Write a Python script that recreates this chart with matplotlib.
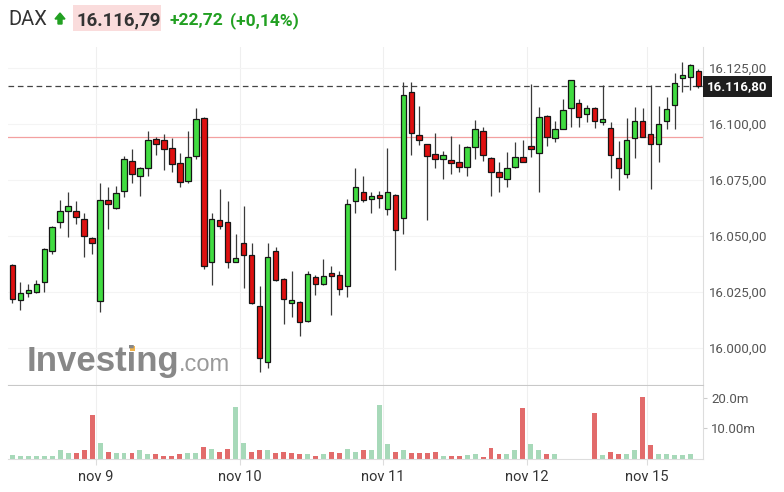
import numpy as np
import matplotlib
matplotlib.use('Agg')
import matplotlib.pyplot as plt
import matplotlib.transforms as mtransforms
from matplotlib.patches import Polygon, Rectangle

plt.rcParams['font.family'] = ['Roboto', 'DejaVu Sans']

# DAX, 30 min candles, nov 9 - nov 15
opens = [16037.0, 16021.4, 16024.4, 16024.8, 16029.6, 16043.4, 16056.4, 16061.4, 16061.3, 16057.4,
         16049.1, 16021.1, 16065.9, 16062.3, 16070.2, 16083.7, 16076.9, 16080.2, 16093.4, 16092.8,
         16089.4, 16082.7, 16074.7, 16085.8, 16102.8, 16038.5, 16057.1, 16056.4, 16038.5, 16047.0,
         16041.5, 16018.9, 15993.9, 16043.4, 16030.8, 16019.9, 16020.7, 16012.2, 16031.8, 16028.4,
         16033.6, 16032.4, 16027.8, 16065.7, 16069.8, 16066.5, 16068.3, 16061.9, 16068.3, 16057.9,
         16114.4, 16094.9, 16091.0, 16086.6, 16084.6, 16083.9, 16083.1, 16080.9, 16089.8, 16097.0,
         16084.9, 16078.7, 16075.4, 16080.9, 16085.4, 16090.3, 16086.9, 16103.8, 16093.6, 16098.0,
         16107.0, 16109.5, 16104.3, 16107.3, 16101.0, 16098.3, 16084.9, 16077.5, 16093.6, 16101.3,
         16095.4, 16090.9, 16101.5, 16108.7, 16120.4, 16121.1, 16123.9]
highs = [16037.5, 16029.3, 16028.4, 16030.3, 16044.8, 16054.4, 16066.3, 16069.5, 16065.6, 16060.1,
         16049.7, 16073.5, 16072.0, 16072.4, 16085.7, 16088.7, 16080.9, 16097.0, 16094.0, 16095.4,
         16093.6, 16086.9, 16097.0, 16107.0, 16103.2, 16060.1, 16070.8, 16065.6, 16050.7, 16063.5,
         16046.7, 16027.6, 16047.1, 16045.2, 16031.1, 16034.5, 16021.0, 16034.5, 16032.6, 16039.6,
         16036.7, 16034.5, 16066.5, 16080.6, 16076.9, 16069.8, 16070.2, 16089.1, 16068.6, 16118.6,
         16118.6, 16108.0, 16091.3, 16095.8, 16087.9, 16094.6, 16090.9, 16090.1, 16102.0, 16098.5,
         16085.4, 16082.9, 16087.3, 16091.8, 16092.8, 16118.1, 16107.4, 16104.1, 16101.3, 16111.4,
         16119.8, 16111.4, 16108.4, 16107.6, 16117.4, 16101.0, 16092.4, 16102.5, 16107.7, 16107.0,
         16117.4, 16108.0, 16112.2, 16122.6, 16127.6, 16127.0, 16124.8]
lows = [16020.2, 16017.2, 16022.9, 16024.4, 16025.1, 16041.9, 16053.7, 16049.7, 16055.3, 16040.7,
        16042.2, 16016.2, 16053.1, 16062.0, 16067.5, 16073.5, 16068.0, 16076.9, 16086.4, 16079.7,
        16078.4, 16072.0, 16073.5, 16084.3, 16035.2, 16028.1, 16053.1, 16035.8, 16038.2, 16026.9,
        16019.6, 15989.4, 15991.2, 16030.0, 16010.7, 16014.0, 16005.3, 16011.7, 16023.9, 16028.1,
        16014.7, 16023.9, 16022.6, 16060.4, 16065.3, 16060.4, 16062.6, 16059.3, 16034.8, 16050.7,
        16086.1, 16090.6, 16057.1, 16080.6, 16075.4, 16077.6, 16078.4, 16076.8, 16084.3, 16083.6,
        16067.8, 16069.5, 16072.0, 16080.6, 16082.9, 16085.4, 16069.8, 16090.3, 16092.1, 16097.7,
        16098.5, 16098.8, 16101.0, 16098.3, 16099.5, 16076.0, 16070.5, 16076.0, 16084.9, 16094.0,
        16071.0, 16083.1, 16098.0, 16097.7, 16114.4, 16115.4, 16116.2]
closes = [16022.1, 16024.7, 16025.9, 16028.4, 16044.2, 16054.1, 16061.3, 16063.4, 16058.6, 16050.1,
          16046.7, 16065.9, 16064.1, 16069.3, 16084.3, 16077.9, 16080.5, 16092.8, 16091.3, 16088.7,
          16082.0, 16074.2, 16085.4, 16102.2, 16036.7, 16057.4, 16054.6, 16038.5, 16040.3, 16041.5,
          16019.9, 15995.4, 16040.7, 16030.3, 16021.7, 16021.4, 16011.7, 16033.0, 16028.4, 16032.3,
          16032.1, 16026.2, 16064.3, 16071.7, 16066.3, 16067.8, 16066.9, 16069.8, 16052.6, 16112.9,
          16096.1, 16093.1, 16085.8, 16084.6, 16086.0, 16082.4, 16080.9, 16089.8, 16097.6, 16086.1,
          16078.7, 16076.5, 16080.5, 16085.4, 16083.1, 16089.0, 16103.2, 16094.3, 16097.6, 16106.1,
          16119.5, 16103.2, 16107.0, 16101.5, 16102.2, 16086.4, 16080.2, 16092.8, 16101.3, 16094.3,
          16091.3, 16100.0, 16106.5, 16118.4, 16121.7, 16126.3, 16116.8]

# volume in millions, 1 = up bar (green), 0 = down bar (red)
volumes = [1.4, 1.0, 1.0, 1.0, 1.0, 1.0, 2.9, 2.0, 2.0, 2.9,
           14.4, 5.4, 2.4, 2.0, 2.0, 2.0, 2.9, 1.5, 1.5, 1.1,
           1.1, 1.6, 2.0, 2.0, 4.0, 3.3, 2.4, 3.3, 17.1, 5.4,
           2.4, 2.9, 2.9, 2.0, 2.4, 2.0, 1.5, 1.5, 1.1, 1.5,
           2.4, 2.0, 3.3, 2.4, 2.9, 2.9, 17.8, 4.8, 2.4, 2.9,
           2.0, 2.0, 2.0, 2.4, 1.1, 1.1, 1.1, 1.4, 1.7, 0.6,
           3.6, 1.7, 1.7, 2.8, 16.6, 4.8, 2.8, 1.7, 1.7, 0.0,
           0.0, 0.0, 0.0, 15.2, 1.4, 2.2, 1.7, 1.7, 2.8, 20.3,
           4.5, 1.7, 1.7, 1.4, 1.4, 1.7, 0.0]
vol_up = [1, 1, 1, 1, 1, 1, 1, 1, 0, 0,
          0, 1, 0, 1, 1, 0, 1, 1, 0, 0,
          0, 0, 1, 1, 0, 1, 0, 0, 1, 1,
          0, 0, 1, 0, 0, 0, 0, 1, 0, 1,
          0, 0, 1, 1, 0, 1, 1, 1, 0, 1,
          0, 0, 0, 0, 1, 0, 0, 1, 1, 0,
          0, 0, 1, 1, 0, 1, 1, 0, 1, 1,
          1, 1, 1, 0, 1, 0, 0, 1, 1, 0,
          0, 1, 1, 1, 1, 1, 1]

day_labels = ['nov 9', 'nov 10', 'nov 11', 'nov 12', 'nov 15']
day_pos = [10.5, 28.5, 46.5, 64.5, 79.5]
price_ticks = [16000, 16025, 16050, 16075, 16100, 16125]
vol_ticks = [10, 20]
vol_labels = ['10.00m', '20.0m']

last_price = 16116.80
prev_close = 16094.07
header_price = '16.116,79'
header_chg = '+22,72'
header_pct = '(+0,14%)'


def de_fmt(v):
    s = f'{v:,.2f}'
    return s.replace(',', ' ').replace('.', ',').replace(' ', '.')


W, H = 784, 492
fig = plt.figure(figsize=(W / 100, H / 100), dpi=100)
px = mtransforms.Affine2D().scale(1 / W, -1 / H).translate(0, 1) + fig.transFigure


def box(x0, y0, x1, y1):
    return [x0 / W, 1 - y1 / H, (x1 - x0) / W, (y1 - y0) / H]


ax = fig.add_axes(box(8, 47, 703, 385))
axv = fig.add_axes(box(8, 386, 703, 459))

idx = np.arange(len(opens))
o = np.array(opens)
c = np.array(closes)
hi = np.array(highs)
lo = np.array(lows)
up = c >= o

# candles
ax.vlines(idx, lo, hi, color='#3a3a3a', lw=0.9, zorder=3)
ax.bar(idx, np.maximum(np.abs(c - o), 0.8), bottom=np.minimum(o, c), width=0.68,
       color=np.where(up, '#41dc41', '#de1010'), edgecolor='#151515', linewidth=0.9, zorder=4)

ax.axhline(last_price, color='#444444', lw=0.9, ls=(0, (4.5, 3)), zorder=2)
ax.axhline(prev_close, color='#f3a0a0', lw=0.9, zorder=2)
for d in day_pos:
    ax.axvline(d, color='#efefef', lw=0.8, zorder=0)
    axv.axvline(d, color='#efefef', lw=0.8, zorder=0)

ax.set_xlim(-0.54, 86.57)
ax.set_ylim(15983.5, 16134.4)
ax.set_yticks(price_ticks, [de_fmt(v) for v in price_ticks])
ax.yaxis.tick_right()
ax.tick_params(axis='y', length=0, pad=4, labelsize=9.5, labelcolor='#555555')
ax.set_xticks([])
ax.grid(axis='y', color='#f4f4f4', lw=0.8)
ax.set_axisbelow(True)
for s in ['left', 'top']:
    ax.spines[s].set_visible(False)
ax.spines['right'].set_color('#dddddd')
ax.spines['bottom'].set_color('#c8c8c8')

ax.annotate(de_fmt(last_price), xy=(1, last_price), xycoords=('axes fraction', 'data'),
            xytext=(3, 0), textcoords='offset points', ha='left', va='center',
            fontsize=9.5, fontweight='bold', color='white', annotation_clip=False,
            bbox=dict(boxstyle='square,pad=0.3', fc='#1e1e1e', ec='none'))

# volume
axv.bar(idx, volumes, width=0.62, color=np.where(np.array(vol_up) == 1, '#a7d9b9', '#e26b6b'), zorder=2)
axv.set_xlim(-0.54, 86.57)
axv.set_ylim(0, 23.9)
axv.set_yticks(vol_ticks, vol_labels)
axv.yaxis.tick_right()
axv.tick_params(axis='y', length=3, color='#cccccc', pad=3, labelsize=9.5, labelcolor='#555555')
axv.set_xticks(day_pos, day_labels)
axv.tick_params(axis='x', length=4, color='#dddddd', pad=4, labelsize=10.5, labelcolor='#333333')
for s in ['left', 'top']:
    axv.spines[s].set_visible(False)
axv.spines['right'].set_color('#dddddd')
axv.spines['bottom'].set_color('#dddddd')

# header
fig.text(8 / W, 1 - 25 / H, 'DAX', fontsize=14.5, color='#333333', va='baseline')
green = '#22a022'
fig.add_artist(Polygon([(55, 19), (60, 13), (65, 19), (62, 19), (62, 24), (58, 24), (58, 19)],
                       closed=True, transform=px, color=green))
fig.add_artist(Rectangle((73, 5), 88, 26, transform=px, color='#fadcdc', lw=0))
fig.text(77 / W, 1 - 25 / H, header_price, fontsize=13.5, fontweight='bold', color='#333333', va='baseline')
fig.text(169 / W, 1 - 25 / H, header_chg, fontsize=12.5, fontweight='bold', color=green, va='baseline')
fig.text(230 / W, 1 - 25 / H, header_pct, fontsize=12.5, fontweight='bold', color=green, va='baseline')

# watermark
wm_kw = dict(family='Liberation Sans', fontsize=25, fontweight='bold', va='baseline')
fig.text(27 / W, 1 - 371 / H, 'Investing', color='#888888', **wm_kw)
fig.text(179 / W, 1 - 371 / H, '.com', family='Liberation Sans', fontsize=17, color='#9a9a9a', va='baseline')
# orange dot on the "i"
r = fig.canvas.get_renderer()
t1 = fig.text(27 / W, 1 - 371 / H, 'Invest', alpha=0, **wm_kw)
t2 = fig.text(27 / W, 1 - 371 / H, 'Investi', alpha=0, **wm_kw)
xa = t1.get_window_extent(r).x1
xb = t2.get_window_extent(r).x1
em = 25 * 100 / 72
fig.add_artist(Rectangle((xa + 0.07 * em, 371 - 0.72 * em), (xb - xa) - 0.14 * em, 0.14 * em,
                         transform=px, color='#f2b349', lw=0))

fig.savefig('out.png', dpi=100, facecolor='white')
